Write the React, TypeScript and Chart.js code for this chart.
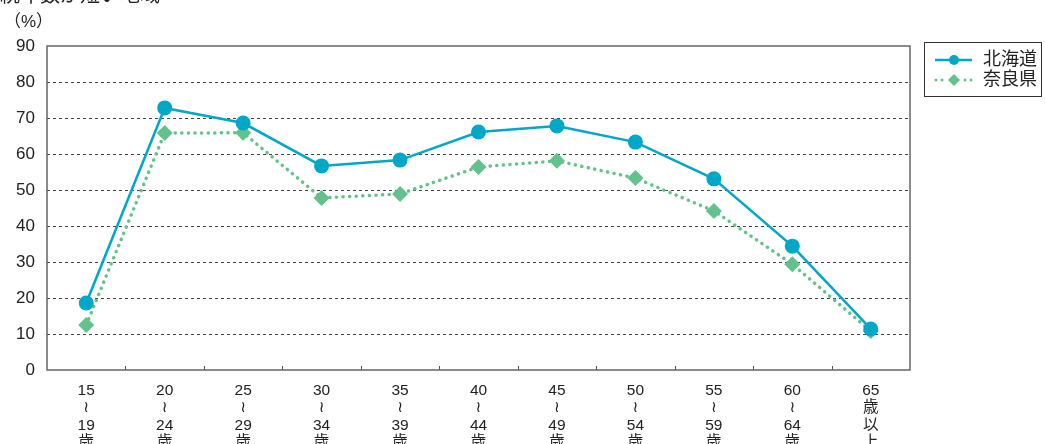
import React, { useEffect, useRef } from "react";
import { Chart, registerables } from "chart.js";

Chart.register(...registerables);

const categories: string[][] = [
  ["15", "≀", "19", "歳"],
  ["20", "≀", "24", "歳"],
  ["25", "≀", "29", "歳"],
  ["30", "≀", "34", "歳"],
  ["35", "≀", "39", "歳"],
  ["40", "≀", "44", "歳"],
  ["45", "≀", "49", "歳"],
  ["50", "≀", "54", "歳"],
  ["55", "≀", "59", "歳"],
  ["60", "≀", "64", "歳"],
  ["65", "歳", "以", "上"],
];
const hokkaido = [18.6, 72.8, 68.6, 56.7, 58.3, 66.1, 67.8, 63.3, 53.1, 34.4, 11.4];
const nara = [12.5, 65.8, 65.9, 47.8, 48.9, 56.4, 58.1, 53.3, 44.2, 29.4, 10.8];
const seriesNames = ["北海道", "奈良県"];
const yTicks = [0, 10, 20, 30, 40, 50, 60, 70, 80, 90];
const titleText = "勤続年数が短い地域";
const unitText = "（%）";

const CYAN = "#00a7c6";
const GREEN = "#63c18c";
const FONT = "'Liberation Sans', 'DejaVu Sans', 'Noto Sans CJK JP', sans-serif";

export default function App() {
  const ref = useRef<HTMLCanvasElement | null>(null);
  useEffect(() => {
    document.body.style.margin = "0";
    const canvas = ref.current!;
    const deco = {
      id: "deco",
      beforeDatasetsDraw(chart: any) {
        const { ctx, chartArea: a, scales } = chart;
        ctx.save();
        ctx.strokeStyle = "#555";
        ctx.lineWidth = 1;
        const xs = scales.x;
        for (let i = 1; i < categories.length; i++) {
          const px = (xs.getPixelForValue(i - 1) + xs.getPixelForValue(i)) / 2;
          ctx.beginPath();
          ctx.moveTo(Math.round(px) + 0.5, a.bottom);
          ctx.lineTo(Math.round(px) + 0.5, a.bottom - 4);
          ctx.stroke();
        }
        ctx.restore();
      },
      afterDraw(chart: any) {
        const { ctx, chartArea: a } = chart;
        ctx.save();
        ctx.strokeStyle = "#666";
        ctx.lineWidth = 1.5;
        ctx.strokeRect(a.left, a.top, a.right - a.left, a.bottom - a.top);
        ctx.fillStyle = "#222";
        ctx.font = `17px ${FONT}`;
        ctx.textBaseline = "middle";
        ctx.textAlign = "left";
        ctx.fillText(unitText, 4, 22);
        ctx.font = `20px ${FONT}`;
        ctx.fillText(titleText, -20, -4);
        const lx = 924, ly = 42, lw = 117, lh = 54;
        ctx.strokeStyle = "#333";
        ctx.lineWidth = 1;
        ctx.strokeRect(lx + 0.5, ly + 0.5, lw, lh);
        let y = 60;
        ctx.strokeStyle = CYAN;
        ctx.lineWidth = 2.5;
        ctx.beginPath();
        ctx.moveTo(935, y);
        ctx.lineTo(972, y);
        ctx.stroke();
        ctx.fillStyle = CYAN;
        ctx.beginPath();
        ctx.arc(954, y, 5, 0, Math.PI * 2);
        ctx.fill();
        ctx.fillStyle = "#222";
        ctx.font = `18px ${FONT}`;
        ctx.fillText(seriesNames[0], 983, y);
        y = 80;
        ctx.fillStyle = GREEN;
        for (const dx of [936, 942, 965, 971]) {
          ctx.beginPath();
          ctx.arc(dx, y, 1.5, 0, Math.PI * 2);
          ctx.fill();
        }
        ctx.beginPath();
        ctx.moveTo(954, y - 6);
        ctx.lineTo(960, y);
        ctx.lineTo(954, y + 6);
        ctx.lineTo(948, y);
        ctx.closePath();
        ctx.fill();
        ctx.fillStyle = "#222";
        ctx.fillText(seriesNames[1], 983, y);
        ctx.restore();
      },
    };
    const chart = new Chart(canvas, {
      type: "line",
      data: {
        labels: categories,
        datasets: [
          {
            label: seriesNames[0],
            data: hokkaido,
            borderColor: CYAN,
            backgroundColor: CYAN,
            borderWidth: 2.5,
            pointStyle: "circle",
            pointRadius: 7.5,
            pointBorderWidth: 0,
            pointBackgroundColor: CYAN,
          },
          {
            label: seriesNames[1],
            data: nara,
            borderColor: GREEN,
            backgroundColor: GREEN,
            borderWidth: 3.5,
            borderDash: [0.1, 6.5],
            borderCapStyle: "round",
            pointStyle: "rectRot",
            pointRadius: 8,
            pointBorderWidth: 0,
            pointBackgroundColor: GREEN,
          },
        ],
      },
      plugins: [deco],
      options: {
        animation: false,
        responsive: false,
        maintainAspectRatio: false,
        layout: { padding: { top: 46, right: 135, left: 0, bottom: 0 } },
        plugins: { legend: { display: false }, tooltip: { enabled: false } },
        scales: {
          x: {
            offset: true,
            grid: { display: false },
            border: { display: false },
            ticks: {
              color: "#222",
              font: { size: 15.5, family: FONT, lineHeight: 1.12 },
              maxRotation: 0,
              autoSkip: false,
              padding: 4,
            },
            afterFit(s: any) {
              s.height = 74;
            },
          },
          y: {
            min: 0,
            max: 90,
            afterBuildTicks(s: any) {
              s.ticks = yTicks.map((v) => ({ value: v }));
            },
            grid: {
              drawTicks: false,
              color: (c: any) => (c.tick && (c.tick.value === 0 || c.tick.value === 90) ? "rgba(0,0,0,0)" : "#444"),
              lineWidth: 1,
            },
            border: { display: false, dash: [3, 3] },
            ticks: {
              color: "#222",
              font: { size: 17, family: FONT },
              padding: 12,
            },
            afterFit(s: any) {
              s.width = 47;
            },
          },
        },
      },
    } as any);
    return () => chart.destroy();
  }, []);
  return (
    <div style={{ position: "absolute", left: 0, top: 0, width: 1045, height: 444 }}>
      <canvas ref={ref} width={1045} height={444} style={{ width: 1045, height: 444, display: "block" }} />
    </div>
  );
}
